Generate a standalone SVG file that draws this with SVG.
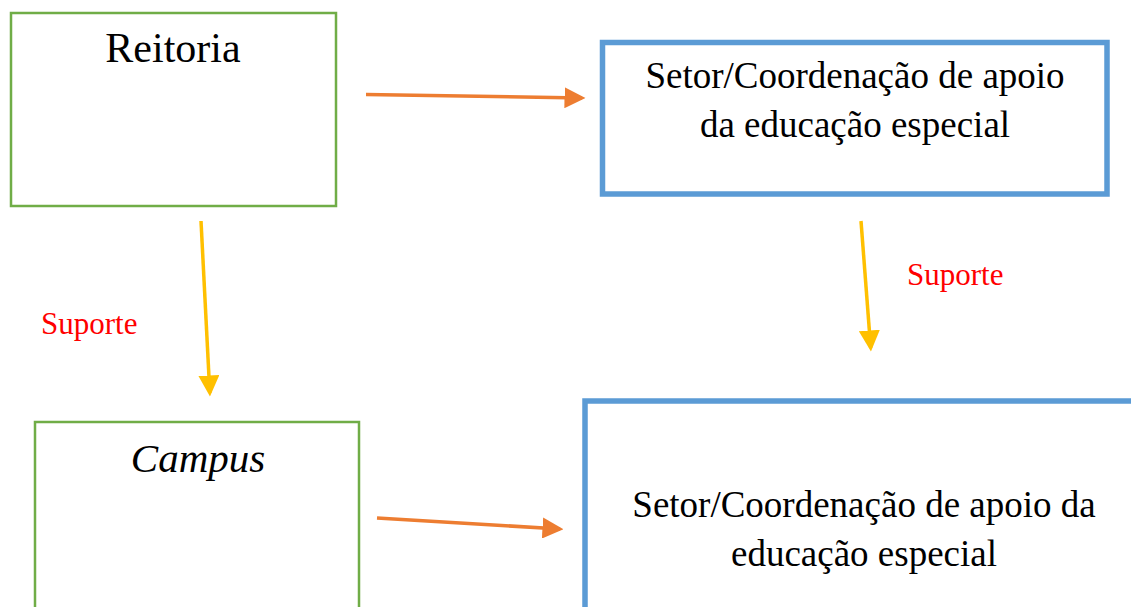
<svg xmlns="http://www.w3.org/2000/svg" width="1131" height="607" viewBox="0 0 1131 607">
<style>
.green{fill:#fff;stroke:#70AD47;stroke-width:2.5}
.blue{fill:#fff;stroke:#5B9BD5;stroke-width:5.5}
.t{font-family:"Liberation Serif","Times New Roman",serif;fill:#000;text-anchor:middle}
.lbl{font-family:"Liberation Serif","Times New Roman",serif;fill:#FF0000;font-size:31px}
.or{stroke:#ED7D31;stroke-width:3.5;fill:none}
.ye{stroke:#FFC000;stroke-width:3.5;fill:none}
</style>
<defs>
<marker id="ao" markerWidth="6" markerHeight="6" refX="5" refY="3" orient="auto" markerUnits="strokeWidth"><path d="M0,0 L6,3 L0,6 z" fill="#ED7D31"/></marker>
<marker id="ay" markerWidth="6" markerHeight="6" refX="5" refY="3" orient="auto" markerUnits="strokeWidth"><path d="M0,0 L6,3 L0,6 z" fill="#FFC000"/></marker>
</defs>
<rect width="1131" height="607" fill="#fff"/>
<g id="reitoria">
<rect class="green" x="11" y="13" width="325" height="193"/>
<text class="t" x="173" y="62" font-size="42">Reitoria</text>
</g>
<g id="setor-top">
<rect class="blue" x="602.5" y="42.5" width="504.5" height="151.5"/>
<text class="t" x="855" y="88" font-size="37">Setor/Coordenação de apoio</text>
<text class="t" x="855" y="137" font-size="37">da educação especial</text>
</g>
<g id="campus">
<rect class="green" x="35" y="422" width="324" height="200"/>
<text class="t" x="198" y="472" font-size="41" font-style="italic">Campus</text>
</g>
<g id="setor-bottom">
<rect class="blue" x="585" y="401" width="560" height="230"/>
<text class="t" x="864" y="517" font-size="37">Setor/Coordenação de apoio da</text>
<text class="t" x="864" y="566" font-size="37">educação especial</text>
</g>
<g id="connectors">
<line class="or" x1="366" y1="94.5" x2="582" y2="98" marker-end="url(#ao)"/>
<line class="or" x1="377" y1="518" x2="560" y2="529" marker-end="url(#ao)"/>
<line class="ye" x1="201" y1="221" x2="209.8" y2="393" marker-end="url(#ay)"/>
<line class="ye" x1="861" y1="221" x2="870.7" y2="348" marker-end="url(#ay)"/>
<text class="lbl" x="41" y="334">Suporte</text>
<text class="lbl" x="907" y="285">Suporte</text>
</g>
</svg>
